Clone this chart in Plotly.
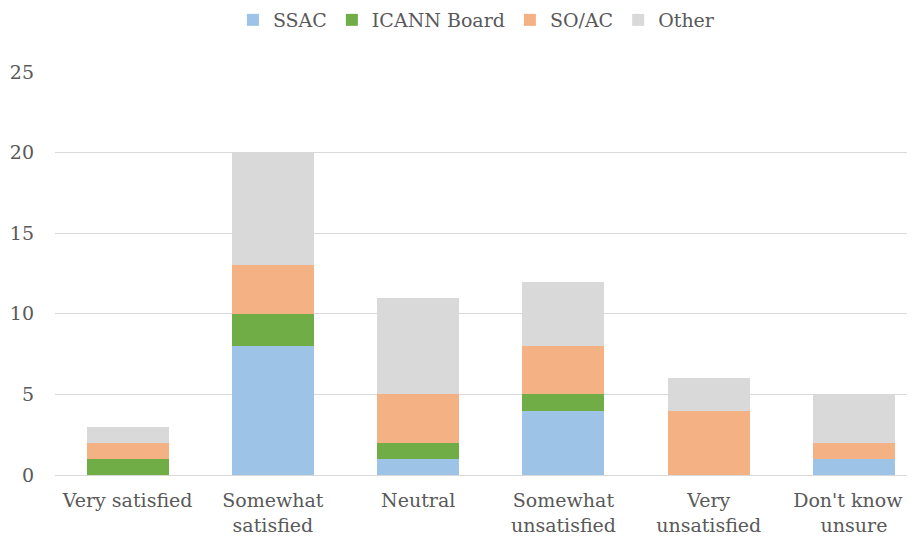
"""Satisfaction survey responses by stakeholder group (stacked columns)."""

import plotly.graph_objects as go

categories = [
    "Very satisfied",
    "Somewhat<br>satisfied",
    "Neutral",
    "Somewhat<br>unsatisfied",
    "Very<br>unsatisfied",
    "Don't know /<br>unsure",
]
ssac = [0, 8, 1, 4, 0, 1]
icann_board = [1, 2, 1, 1, 0, 0]
so_ac = [1, 3, 3, 3, 4, 1]
other = [1, 7, 6, 4, 2, 3]

series = [
    ("SSAC", ssac, "#9DC3E6"),
    ("ICANN Board", icann_board, "#70AD47"),
    ("SO/AC", so_ac, "#F4B183"),
    ("Other", other, "#D9D9D9"),
]

fig = go.Figure()
for name, values, color in series:
    fig.add_trace(go.Bar(x=categories, y=values, name=name, marker_color=color, marker_line_width=0))

_font = dict(family="DejaVu Serif", size=19, color="#595959")
# the page body keeps its default 8px margin, so the figure is 8px smaller
fig.update_layout(
    barmode="stack",
    bargap=0.436,
    width=907,
    height=532,
    margin=dict(l=47, r=0, t=64, b=65, autoexpand=False),
    plot_bgcolor="white",
    paper_bgcolor="white",
    font=_font,
    legend=dict(
        orientation="h",
        x=0.49,
        xanchor="center",
        y=1.129,
        yanchor="middle",
        font=_font,
        itemwidth=30,
        traceorder="normal",
    ),
)
fig.update_xaxes(
    range=[-0.5, 5.42],
    showgrid=False,
    showline=False,
    ticks="",
    ticklabelstandoff=12,
    tickfont=_font,
    automargin=False,
)
fig.update_yaxes(
    range=[0, 25],
    dtick=5,
    showgrid=True,
    gridcolor="#D9D9D9",
    gridwidth=1,
    zeroline=True,
    zerolinecolor="#D9D9D9",
    zerolinewidth=1,
    showline=False,
    ticks="",
    ticklabelstandoff=20,
    tickfont=_font,
    automargin=False,
)

fig.write_html("out.html")
